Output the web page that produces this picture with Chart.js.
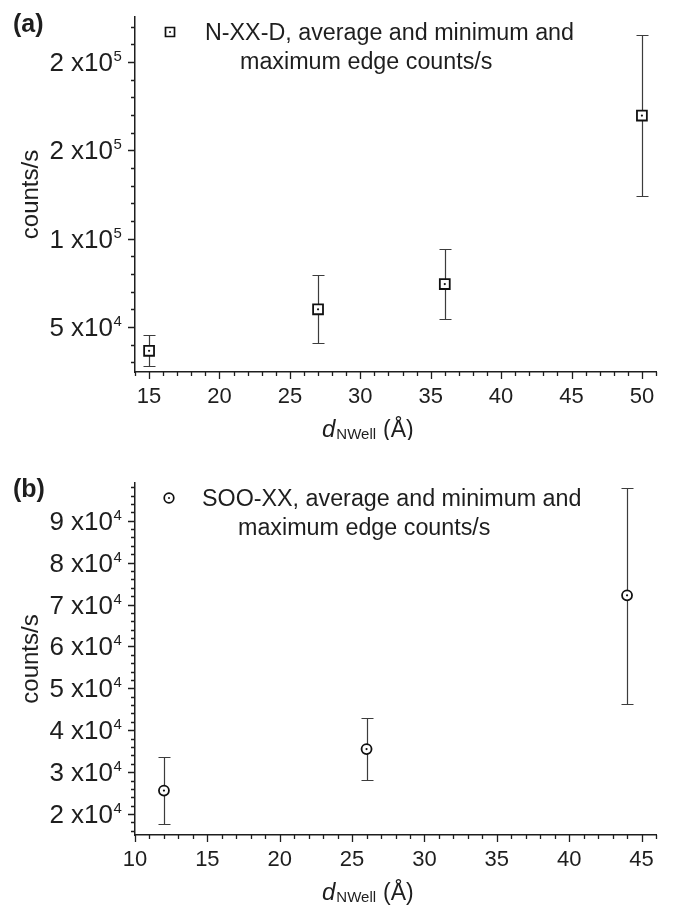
<!DOCTYPE html>
<html>
<head>
<meta charset="utf-8">
<script src="https://cdn.jsdelivr.net/npm/chart.js@4.4.1/dist/chart.umd.min.js"></script>
<style>
  html, body { margin: 0; padding: 0; background: #fff; }
  #wrap { position: relative; width: 675px; height: 907px; background: #fff; }
  canvas { position: absolute; left: 0; }
  #chartA { top: 0; }
  #chartB { top: 440px; }
</style>
</head>
<body>
<div id="wrap">
  <canvas id="chartA" width="675" height="440"></canvas>
  <canvas id="chartB" width="675" height="467"></canvas>
</div>
<script>
// Panel (a): N-XX-D edge counts
const xA = [15, 27, 36, 50];
const avgA = [36500, 60000, 74300, 169700];
const minA = [27800, 40700, 54400, 123900];
const maxA = [45400, 79500, 94200, 215500];
const xTicksA = [15, 20, 25, 30, 35, 40, 45, 50];
const yTicksA = [50000, 100000, 150000, 200000];
const yMantA = ['5', '1', '2', '2'];
const yExpA = ['4', '5', '5', '5'];
const legendA = ['N-XX-D, average and minimum and', 'maximum edge counts/s'];

// Panel (b): SOO-XX edge counts
const xB = [12, 26, 44];
const avgB = [25600, 35500, 72200];
const minB = [17600, 28100, 46300];
const maxB = [33600, 42900, 97900];
const xTicksB = [10, 15, 20, 25, 30, 35, 40, 45];
const yTicksB = [20000, 30000, 40000, 50000, 60000, 70000, 80000, 90000];
const yMantB = ['2', '3', '4', '5', '6', '7', '8', '9'];
const yExpB = ['4', '4', '4', '4', '4', '4', '4', '4'];
const legendB = ['SOO-XX, average and minimum and', 'maximum edge counts/s'];

const FONT = '"Liberation Sans", Arial, sans-serif';
const INK = '#1e1e1e';

function paperPlugin(p) {
    return {
        id: 'paper',
        beforeDatasetsDraw(chart) {
            // error bars (min / max)
            const ctx = chart.ctx;
            const xs = chart.scales.x, ys = chart.scales.y;
            ctx.save();
            ctx.strokeStyle = '#3c3c3c';
            ctx.lineWidth = 1.2;
            p.xs.forEach((v, i) => {
                const px = Math.round(xs.getPixelForValue(v)) + 0.5;
                const top = Math.round(ys.getPixelForValue(p.max[i])) + 0.5;
                const bot = Math.round(ys.getPixelForValue(p.min[i])) + 0.5;
                ctx.beginPath();
                ctx.moveTo(px, top); ctx.lineTo(px, bot);
                ctx.moveTo(px - 6, top); ctx.lineTo(px + 6, top);
                ctx.moveTo(px - 6, bot); ctx.lineTo(px + 6, bot);
                ctx.stroke();
            });
            ctx.restore();
        },
        afterDraw(chart) {
            const ctx = chart.ctx;
            const xs = chart.scales.x, ys = chart.scales.y;
            const area = chart.chartArea;
            ctx.save();
            ctx.strokeStyle = INK;
            ctx.fillStyle = INK;
            ctx.lineWidth = 1.3;

            // x ticks, major every 5, minor every 1
            ctx.beginPath();
            for (let v = Math.ceil(xs.min); v <= xs.max; v++) {
                const px = Math.round(xs.getPixelForValue(v)) + 0.5;
                const len = v % 5 === 0 ? 7 : 4;
                ctx.moveTo(px, area.bottom);
                ctx.lineTo(px, area.bottom + len);
            }
            // y ticks
            for (let v = Math.ceil(ys.min / p.yMinor) * p.yMinor; v <= ys.max; v += p.yMinor) {
                const py = Math.round(ys.getPixelForValue(v)) + 0.5;
                const len = v % p.yMajor === 0 ? 7 : 4;
                ctx.moveTo(area.left, py);
                ctx.lineTo(area.left - len, py);
            }
            ctx.stroke();

            // x tick labels
            ctx.font = '22px ' + FONT;
            ctx.textAlign = 'center';
            ctx.textBaseline = 'alphabetic';
            p.xTicks.forEach(v => {
                ctx.fillText(String(v), xs.getPixelForValue(v), area.bottom + 31);
            });

            // y tick labels "m x10^e"
            p.yTicks.forEach((v, i) => {
                const py = ys.getPixelForValue(v);
                ctx.font = '26px ' + FONT;
                ctx.textAlign = 'right';
                ctx.fillText(p.yMant[i] + ' x10', 113, py + 9);
                ctx.font = '15px ' + FONT;
                ctx.textAlign = 'left';
                ctx.fillText(p.yExp[i], 113.5, py - 1);
            });

            // y title
            ctx.save();
            ctx.translate(38, (area.top + area.bottom) / 2);
            ctx.rotate(-Math.PI / 2);
            ctx.font = '24px ' + FONT;
            ctx.textAlign = 'center';
            ctx.fillText('counts/s', 0, 0);
            ctx.restore();

            // x title: d_NWell (Å)
            const tx = area.left + 187;
            const ty = area.bottom + 65;
            ctx.textAlign = 'left';
            ctx.font = 'italic 24px ' + FONT;
            ctx.fillText('d', tx, ty);
            let w = ctx.measureText('d').width;
            ctx.font = '15px ' + FONT;
            ctx.fillText('NWell', tx + w + 1, ty + 2);
            w += 1 + ctx.measureText('NWell').width;
            ctx.font = '23px ' + FONT;
            ctx.fillText('(\u00C5)', tx + w + 7, ty);

            // panel label
            ctx.font = 'bold 25px ' + FONT;
            ctx.fillText(p.panel, 13, p.panelY);

            // legend
            const lx = 170, ly = area.top + 15;
            ctx.lineWidth = 1.7;
            ctx.strokeStyle = '#111';
            ctx.fillStyle = '#fff';
            ctx.beginPath();
            if (p.marker === 'rect') {
                ctx.rect(lx - 4.5, ly - 4.5, 9, 9);
            } else {
                ctx.arc(lx - 1, ly, 4.8, 0, Math.PI * 2);
            }
            ctx.fill();
            ctx.stroke();
            ctx.fillStyle = '#111';
            ctx.beginPath();
            ctx.arc(p.marker === 'rect' ? lx : lx - 1, ly, 1, 0, Math.PI * 2);
            ctx.fill();

            ctx.fillStyle = INK;
            ctx.font = '23.3px ' + FONT;
            ctx.textAlign = 'left';
            ctx.fillText(p.legend[0], p.legX[0], ly + 8);
            ctx.fillText(p.legend[1], p.legX[1], ly + 37);
            ctx.restore();
        }
    };
}

function makeChart(id, p) {
    return new Chart(document.getElementById(id), {
        type: 'scatter',
        data: {
            datasets: [{
                label: 'average',
                order: 1,
                data: p.xs.map((v, i) => ({ x: v, y: p.avg[i] })),
                pointStyle: p.marker,
                pointRadius: p.marker === 'rect' ? 7 : 5,
                pointBackgroundColor: '#fff',
                pointBorderColor: '#111',
                pointBorderWidth: 1.8
            }, {
                label: 'centre',
                order: 0,
                data: p.xs.map((v, i) => ({ x: v, y: p.avg[i] })),
                pointStyle: 'circle',
                pointRadius: 1.1,
                pointBackgroundColor: '#111',
                pointBorderWidth: 0
            }]
        },
        options: {
            responsive: false,
            animation: false,
            events: [],
            layout: {
                padding: { top: p.padTop, right: 19, left: 0, bottom: 0 }
            },
            plugins: {
                legend: { display: false },
                tooltip: { enabled: false }
            },
            scales: {
                x: {
                    type: 'linear',
                    min: p.xMin,
                    max: p.xMax,
                    grid: { display: false },
                    border: { display: true, color: INK, width: 1.5 },
                    ticks: { display: false },
                    afterFit: s => { s.height = p.xAxisH; s.paddingLeft = 0; s.paddingRight = 0; }
                },
                y: {
                    type: 'linear',
                    min: p.yMin,
                    max: p.yMax,
                    grid: { display: false },
                    border: { display: true, color: INK, width: 1.5 },
                    ticks: { display: false },
                    afterFit: s => { s.width = 135; s.paddingTop = 0; s.paddingBottom = 0; }
                }
            }
        },
        plugins: [paperPlugin(p)]
    });
}

makeChart('chartA', {
    xs: xA, avg: avgA, min: minA, max: maxA,
    xMin: 14, xMax: 51, yMin: 24500, yMax: 225500,
    yMinor: 10000, yMajor: 50000,
    xTicks: xTicksA, yTicks: yTicksA, yMant: yMantA, yExp: yExpA,
    marker: 'rect', legend: legendA, legX: [205, 240],
    panel: '(a)', panelY: 32,
    padTop: 17, xAxisH: 68
});

makeChart('chartB', {
    xs: xB, avg: avgB, min: minB, max: maxB,
    xMin: 10, xMax: 46, yMin: 15000, yMax: 99000,
    yMinor: 2000, yMajor: 10000,
    xTicks: xTicksB, yTicks: yTicksB, yMant: yMantB, yExp: yExpB,
    marker: 'circle', legend: legendB, legX: [202, 238],
    panel: '(b)', panelY: 57,
    padTop: 43, xAxisH: 72
});
</script>
</body>
</html>
